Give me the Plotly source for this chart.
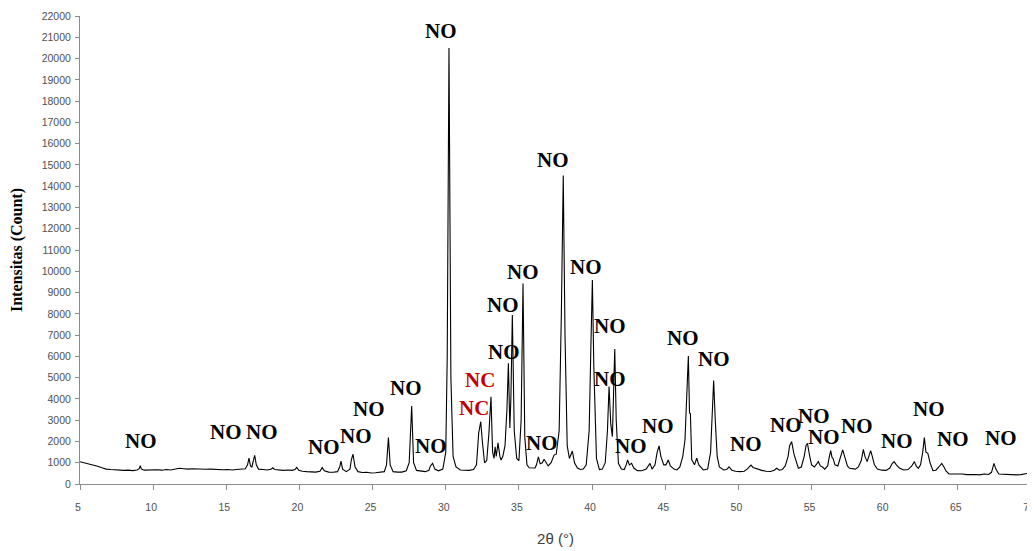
import plotly.graph_objects as go

# 2-theta (degrees) and intensity (counts)
two_theta = [
    5.0, 5.3, 5.6, 5.9, 6.2, 6.5, 6.8, 7.1, 7.4, 7.7, 8.0, 8.3, 8.6, 8.9, 9.05, 9.12, 9.2, 9.4, 9.7,
    10.0, 10.3, 10.6, 10.9, 11.2, 11.5, 11.8, 12.1, 12.4, 12.7, 13.0, 13.3, 13.6, 13.9, 14.2, 14.5,
    14.8, 15.1, 15.4, 15.7, 16.0, 16.3, 16.45, 16.55, 16.65, 16.75, 16.85, 16.94, 17.05, 17.2, 17.5,
    17.8, 18.05, 18.17, 18.3, 18.6, 18.9, 19.2, 19.5, 19.7, 19.81, 19.95, 20.2, 20.5, 20.8, 21.1,
    21.4, 21.55, 21.7, 22.0, 22.3, 22.6, 22.75, 22.84, 22.95, 23.2, 23.45, 23.55, 23.66, 23.8, 24.0,
    24.3, 24.6, 24.9, 25.2, 25.5, 25.8, 25.95, 26.08, 26.2, 26.4, 26.7, 27.0, 27.3, 27.5, 27.67,
    27.8, 28.0, 28.3, 28.6, 28.85, 28.95, 29.1, 29.25, 29.5, 29.8, 30.0, 30.1, 30.22, 30.35, 30.5,
    30.7, 31.0, 31.3, 31.6, 31.9, 32.1, 32.25, 32.39, 32.5, 32.65, 32.8, 32.95, 33.09, 33.2, 33.3,
    33.37, 33.45, 33.57, 33.7, 33.78, 33.9, 34.05, 34.18, 34.28, 34.38, 34.45, 34.55, 34.68, 34.85,
    35.0, 35.15, 35.28, 35.4, 35.55, 35.7, 35.9, 36.1, 36.2, 36.33, 36.45, 36.6, 36.72, 36.85, 37.0,
    37.2, 37.4, 37.55, 37.75, 37.9, 38.03, 38.15, 38.3, 38.45, 38.65, 38.8, 39.0, 39.2, 39.4, 39.6,
    39.8, 39.92, 40.02, 40.12, 40.3, 40.5, 40.7, 40.9, 41.05, 41.16, 41.28, 41.39, 41.47, 41.55,
    41.65, 41.8, 42.0, 42.2, 42.33, 42.43, 42.55, 42.7, 42.85, 43.1, 43.4, 43.7, 43.96, 44.1, 44.3,
    44.45, 44.58, 44.7, 44.9, 45.05, 45.21, 45.35, 45.6, 45.8, 46.0, 46.2, 46.35, 46.5, 46.58, 46.66,
    46.72, 46.81, 47.0, 47.15, 47.3, 47.6, 47.9, 48.1, 48.2, 48.31, 48.42, 48.55, 48.7, 49.0, 49.2,
    49.36, 49.55, 49.8, 50.1, 50.4, 50.6, 50.86, 51.0, 51.3, 51.6, 51.9, 52.2, 52.45, 52.62, 52.8,
    53.0, 53.2, 53.4, 53.5, 53.64, 53.8, 54.0, 54.1, 54.3, 54.5, 54.62, 54.72, 54.85, 55.0, 55.2,
    55.35, 55.47, 55.6, 55.75, 55.9, 56.1, 56.22, 56.31, 56.4, 56.47, 56.6, 56.8, 56.95, 57.13, 57.3,
    57.45, 57.6, 58.0, 58.2, 58.4, 58.54, 58.65, 58.8, 58.92, 59.04, 59.15, 59.3, 59.5, 59.8, 60.1,
    60.35, 60.5, 60.64, 60.8, 61.0, 61.3, 61.6, 61.85, 62.03, 62.15, 62.3, 62.45, 62.6, 62.71, 62.82,
    62.95, 63.1, 63.3, 63.5, 63.7, 63.9, 64.05, 64.2, 64.4, 64.7, 65.0, 65.3, 65.6, 65.9, 66.2, 66.5,
    66.8, 67.1, 67.3, 67.47, 67.6, 67.8, 68.1, 68.4, 68.7, 69.0, 69.3, 69.6, 69.8, 69.9, 70.0,
]
intensity = [
    1050, 1000, 960, 900, 830, 760, 700, 680, 660, 670, 640, 650, 630, 660, 720, 860, 700, 650, 660,
    640, 670, 650, 680, 660, 700, 740, 720, 700, 720, 700, 710, 690, 700, 680, 690,
    670, 680, 660, 680, 690, 720, 900, 1220, 850, 800, 1100, 1350, 900, 700, 680,
    660, 690, 760, 680, 650, 640, 660, 640, 680, 780, 650, 600, 580, 570, 560,
    600, 770, 620, 560, 550, 580, 800, 1080, 700, 580, 700, 1150, 1400, 800, 580,
    540, 550, 520, 530, 540, 580, 900, 2180, 900, 580, 560, 560, 620, 1000, 3670,
    1000, 640, 620, 580, 640, 850, 970, 700, 620, 700, 1500, 6000, 20500, 5000, 1300,
    800, 660, 650, 640, 680, 900, 2400, 2930, 2000, 1000, 1100, 2400, 4100, 1500, 1200,
    1750, 1300, 1930, 1300, 1130, 1300, 1800, 3500, 5670, 2630, 4000, 7940, 2500, 1200,
    1100, 3000, 9430, 2200, 900, 760, 740, 750, 900, 1280, 950, 1000, 1160, 1000, 850,
    1000, 1360, 1400, 2500, 8000, 14500, 7000, 1800, 1200, 1550, 1000, 750, 680, 700, 900,
    2500, 6500, 9590, 5500, 1200, 680, 700, 1000, 2500, 4580, 2800, 2230, 4500, 6350,
    3000, 970, 700, 680, 900, 1130, 900, 970, 750, 630, 620, 700, 970, 700, 900,
    1500, 1790, 1300, 900, 900, 1130, 850, 700, 660, 800, 1300, 2070, 4500, 6020, 3340,
    3300, 1150, 900, 1210, 900, 660, 700, 1500, 3500, 4860, 3000, 1300, 800, 660, 680,
    810, 650, 600, 580, 600, 700, 890, 780, 700, 640, 600, 590, 650, 740, 650,
    680, 850, 1300, 1800, 1990, 1400, 900, 740, 800, 1300, 1800, 1910, 1400, 900, 800,
    950, 1050, 850, 800, 700, 850, 1300, 1570, 1250, 1210, 900, 850, 1200, 1600, 1200,
    850, 740, 700, 800, 1100, 1630, 1300, 1050, 1300, 1570, 1300, 900, 700, 650, 640,
    750, 950, 1050, 900, 750, 660, 680, 850, 1050, 850, 740, 900, 1500, 2180, 1500,
    1440, 1000, 630, 650, 800, 970, 800, 600, 470, 480, 460, 470, 440, 460, 450, 430,
    470, 450, 550, 970, 700, 470, 460, 430, 450, 430, 440, 470, 500, 620, 520,
]

# Phase labels (text, 2-theta, intensity of the label centre)
label_text = ["NO", "NO", "NO", "NO", "NO", "NO", "NO", "NO", "NO", "NC", "NC", "NO", "NO", "NO",
              "NO", "NO", "NO", "NO", "NO", "NO", "NO", "NO", "NO", "NO", "NO", "NO", "NO", "NO",
              "NO", "NO", "NO", "NO"]
label_x = [9.17, 14.98, 17.44, 21.68, 23.87, 24.75, 27.28, 28.99, 29.68, 32.34, 31.93, 33.98, 33.91,
           35.28, 37.33, 36.58, 39.59, 41.23, 41.23, 42.66, 44.51, 46.22, 48.34, 50.52, 53.26, 55.17,
           55.85, 58.11, 60.84, 63.03, 64.67, 67.95]
label_y = [2020, 2440, 2440, 1740, 2260, 3530, 4510, 1790, 21290, 4890, 3570, 6200, 8410,
           9960, 15230, 1930, 10200, 7430, 4940, 1790, 2730, 6860, 5880, 1880, 2770, 3200,
           2210, 2730, 2020, 3530, 2120, 2160]

x_ticks = list(range(5, 71, 5))
y_ticks = list(range(0, 22001, 1000))

fig = go.Figure()
fig.add_trace(go.Scatter(x=two_theta, y=intensity, mode="lines",
                         line=dict(color="black", width=1.1), showlegend=False,
                         hoverinfo="skip"))

for t, lx, ly in zip(label_text, label_x, label_y):
    fig.add_annotation(x=lx, y=ly, text="<b>" + t + "</b>", showarrow=False,
                       font=dict(family="Liberation Serif", size=21,
                                 color="#C00000" if t == "NC" else "black"))

axis_col = "#8C8C8C"
# the page body adds an 8px offset, so the figure is sized to fit the window
fig.update_layout(
    width=1027, height=543,
    margin=dict(l=72, r=4, t=8, b=67, autoexpand=False),
    paper_bgcolor="white", plot_bgcolor="white",
    xaxis=dict(range=[5, 70], tickvals=x_ticks, showgrid=False, zeroline=False,
               automargin=False, ticklabeloverflow="allow", ticklabelstandoff=8,
               ticklabelshift=-2,
               showline=True, linecolor=axis_col, linewidth=1,
               ticks="outside", ticklen=5, tickcolor=axis_col,
               tickfont=dict(family="Liberation Sans", size=10.5, color="#505050"),
               title=dict(text="2θ (°)", standoff=21,
                          font=dict(family="Liberation Sans", size=15, color="#404040"))),
    yaxis=dict(range=[0, 22000], tickvals=y_ticks, tickformat="d", showgrid=False,
               automargin=False, ticklabeloverflow="allow", ticklabelstandoff=2,
               zeroline=False, showline=True, linecolor=axis_col, linewidth=1,
               ticks="outside", ticklen=4, tickcolor=axis_col,
               tickfont=dict(family="Liberation Sans", size=10.5, color="#505050"),
               title=dict(text="<b>Intensitas (Count)</b>", standoff=15,
                          font=dict(family="Liberation Serif", size=16, color="black"))),
)

fig.write_html("out.html")
